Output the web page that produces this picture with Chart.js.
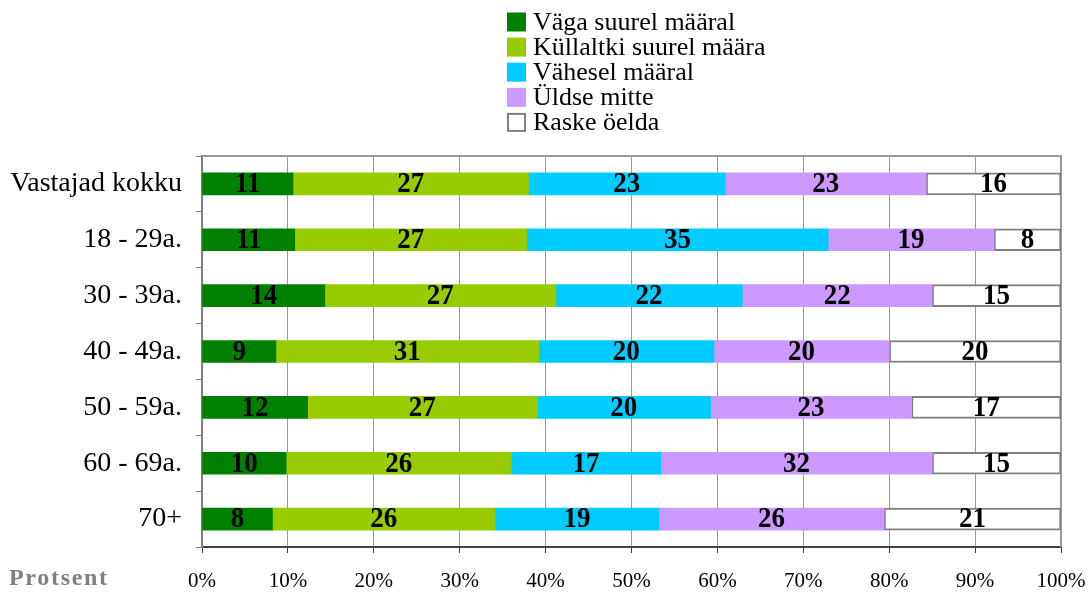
<!DOCTYPE html>
<html>
<head>
<meta charset="utf-8">
<script src="https://cdn.jsdelivr.net/npm/chart.js@4/dist/chart.umd.min.js"></script>
<style>
  html, body { margin: 0; padding: 0; background: #ffffff; }
  #wrap { width: 1089px; height: 593px; position: relative; }
</style>
</head>
<body>
<div id="wrap"><canvas id="c" width="1089" height="593"></canvas></div>
<script>
const categories = ['Vastajad kokku', '18 - 29a.', '30 - 39a.', '40 - 49a.', '50 - 59a.', '60 - 69a.', '70+'];
const seriesNames = ['Väga suurel määral', 'Küllaltki suurel määra', 'Vähesel määral', 'Üldse mitte', 'Raske öelda'];
const vagaSuurel = [10.6, 10.8, 14.3, 8.6, 12.3, 9.8, 8.2];
const kullaltkiSuurel = [27.4, 27.0, 26.9, 30.6, 26.7, 26.2, 25.9];
const vahesel = [22.9, 35.1, 21.7, 20.4, 20.2, 17.4, 19.1];
const uldseMitte = [23.4, 19.3, 22.1, 20.4, 23.4, 31.6, 26.2];
const raskeOelda = [15.7, 7.8, 15.0, 20.0, 17.4, 15.0, 20.6];
const xTicks = [0, 10, 20, 30, 40, 50, 60, 70, 80, 90, 100];
const axisTitle = 'Protsent';

const SERIF = "'Liberation Serif', 'Times New Roman', serif";
const fills = ['#008000', '#99CC00', '#00CCFF', '#CC99FF', '#FFFFFF'];
const borders = ['#008000', '#99CC00', '#00CCFF', '#CC99FF', '#808080'];
const seriesData = [vagaSuurel, kullaltkiSuurel, vahesel, uldseMitte, raskeOelda];

const datasets = seriesData.map((d, i) => ({
  label: seriesNames[i],
  data: d,
  backgroundColor: fills[i],
  borderColor: borders[i],
  borderWidth: i === 4 ? 2 : 0,
  borderSkipped: false,
  barThickness: 22
}));

const decorPlugin = {
  id: 'decor',
  beforeDatasetsDraw(chart) {
    const { ctx, chartArea: a } = chart;
    ctx.save();
    ctx.strokeStyle = '#999999';
    ctx.lineWidth = 2;
    ctx.beginPath();
    ctx.moveTo(a.left, a.top);
    ctx.lineTo(a.right, a.top);
    ctx.lineTo(a.right, a.bottom);
    ctx.stroke();
    ctx.restore();
  },
  afterDatasetsDraw(chart) {
    const { ctx } = chart;
    ctx.save();
    ctx.font = 'bold 27px ' + SERIF;
    ctx.fillStyle = '#000000';
    ctx.textAlign = 'center';
    ctx.textBaseline = 'middle';
    chart.data.datasets.forEach((ds, di) => {
      const meta = chart.getDatasetMeta(di);
      meta.data.forEach((bar, i) => {
        const cx = (bar.x + bar.base) / 2;
        ctx.save();
        ctx.translate(cx, bar.y + 1);
        ctx.scale(1, 1.06);
        ctx.fillText(String(Math.round(ds.data[i])), 0, 0);
        ctx.restore();
      });
    });
    ctx.restore();
  },
  afterDraw(chart) {
    const { ctx } = chart;
    ctx.save();
    // legend (vertical list)
    ctx.font = '26px ' + SERIF;
    ctx.textBaseline = 'middle';
    ctx.textAlign = 'left';
    chart.data.datasets.forEach((ds, i) => {
      const cy = 22 + i * 25.1;
      if (i === 4) {
        ctx.fillStyle = '#FFFFFF';
        ctx.fillRect(507, cy - 9.5, 19, 19);
        ctx.strokeStyle = '#808080';
        ctx.lineWidth = 2;
        ctx.strokeRect(508, cy - 8.5, 17, 17);
      } else {
        ctx.fillStyle = ds.backgroundColor;
        ctx.fillRect(507, cy - 9.5, 19, 19);
      }
      ctx.fillStyle = '#000000';
      ctx.fillText(ds.label, 533, cy + 1);
    });
    // axis title
    ctx.font = 'bold 24px ' + SERIF;
    ctx.fillStyle = '#808080';
    try { ctx.letterSpacing = '1.7px'; } catch (e) {}
    ctx.fillText(axisTitle, 9, 579);
    ctx.restore();
  }
};

new Chart(document.getElementById('c'), {
  type: 'bar',
  data: { labels: categories, datasets },
  options: {
    indexAxis: 'y',
    responsive: false,
    animation: false,
    events: [],
    layout: { padding: { top: 156, right: 28, left: 0, bottom: 0 } },
    plugins: { legend: { display: false }, tooltip: { enabled: false } },
    scales: {
      x: {
        stacked: true,
        min: 0,
        max: 100,
        afterBuildTicks(scale) { scale.ticks = xTicks.map(v => ({ value: v })); },
        afterFit(scale) { scale.height = 46; scale.paddingRight = 0; scale.paddingLeft = 0; },
        ticks: {
          callback: v => v + '%',
          font: { family: SERIF, size: 21 },
          color: '#000000',
          padding: 16,
          maxRotation: 0,
          autoSkip: false
        },
        grid: { color: '#999999', lineWidth: 1, tickLength: 6, tickColor: '#404040', drawTicks: true },
        border: { color: '#404040', width: 2 }
      },
      y: {
        stacked: true,
        afterFit(scale) { scale.width = 202; },
        ticks: {
          font: { family: SERIF, size: 28 },
          color: '#000000',
          padding: 14,
          autoSkip: false
        },
        grid: { drawOnChartArea: false, offset: true, tickLength: 6, color: '#808080' },
        border: { color: '#808080', width: 2 }
      }
    }
  },
  plugins: [decorPlugin]
});
</script>
</body>
</html>
